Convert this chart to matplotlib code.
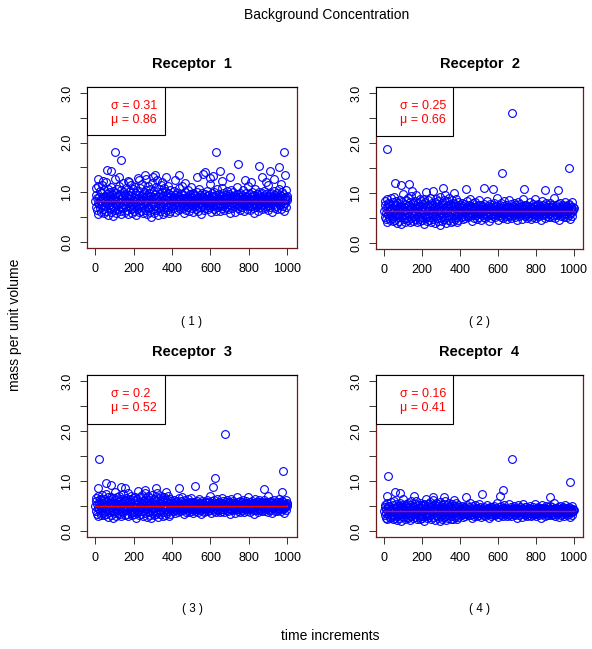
import matplotlib
matplotlib.use("Agg")
import matplotlib.pyplot as plt
import numpy as np
from matplotlib.patches import Rectangle

plt.rcParams['font.family'] = ['Liberation Sans', 'DejaVu Sans']

# bulk of each receptor series, in hundredths, 500 samples over the 1000 steps
rec1 = [82,95,71,108,64,88,79,112,57,91,76,102,69,85,98,61,83,115,74,90,
        67,87,105,59,80,93,72,120,84,63,97,78,106,55,89,75,101,68,86,92,
        60,110,81,73,96,52,88,103,70,84,126,65,91,77,99,58,82,107,74,94,
        66,86,113,62,79,95,71,104,56,89,80,118,68,92,75,100,61,85,97,73,
        83,109,64,90,78,122,57,87,95,70,102,81,66,93,114,59,84,76,106,69,
        91,62,98,80,111,54,86,74,103,67,89,129,72,95,60,83,108,77,92,63,
        85,116,70,96,58,88,101,75,82,134,65,90,79,105,56,94,71,112,84,68,
        99,61,87,107,73,93,50,81,119,66,90,77,103,59,86,97,72,110,64,88,
        80,124,69,92,55,85,106,74,96,62,89,115,71,83,100,57,93,78,109,67,
        87,60,102,76,94,131,65,84,98,70,113,58,90,79,104,63,86,95,73,82,
        79,91,68,85,102,74,88,61,95,83,70,99,77,87,64,92,81,108,72,86,
        90,66,84,97,75,80,113,69,89,78,94,58,83,101,73,87,65,91,82,76,
        104,71,86,93,62,80,96,77,85,110,68,89,74,98,83,60,92,79,87,72,
        95,81,67,88,100,75,84,63,90,78,106,70,86,94,80,57,89,76,99,84,
        73,91,65,87,82,97,69,85,78,103,92,74,81,66,95,88,71,83,116,77,
        86,60,93,79,98,72,84,90,67,101,76,88,82,63,94,80,107,74,89,85,
        70,96,78,62,87,91,75,83,109,68,92,81,73,99,86,64,90,77,84,95,
        79,102,71,88,66,93,82,76,97,85,59,89,74,105,80,92,69,86,78,100,
        83,72,94,87,61,90,79,111,75,84,96,68,88,81,73,98,64,91,85,77,
        87,95,70,82,104,76,89,62,93,80,86,74,99,67,84,91,78,112,72,88,
        81,65,96,85,73,90,100,77,83,69,94,86,58,92,79,87,107,71,84,97,
        75,89,82,63,95,78,101,86,70,91,80,74,98,88,66,84,93,76,103,81,
        89,68,85,97,72,93,79,86,115,64,90,83,75,96,87,71,82,99,78,92,
        60,88,84,102,76,91,69,85,94,80,73,98,87,66,90,82,106,77,86,95,
        74,83,92,67,89,81,100,72,96,85,78,62,91,87,79,104,70,93,84,88]
rec2 = [64,75,52,83,47,69,60,88,42,71,57,80,50,66,77,45,63,90,55,70,
        49,67,81,43,61,73,54,92,65,46,76,59,84,40,68,56,79,51,66,72,
        44,86,62,55,74,38,69,82,52,65,97,48,71,58,78,42,63,85,56,73,
        49,66,89,45,60,75,53,81,41,69,61,93,50,72,57,79,44,65,76,54,
        64,84,47,70,59,95,41,67,74,52,80,62,48,73,88,43,65,57,83,51,
        71,45,77,61,87,37,66,55,81,49,69,101,53,74,44,63,85,58,72,46,
        65,90,52,75,42,68,79,56,63,104,48,70,60,82,40,73,53,87,64,50,
        77,44,67,84,55,72,36,62,91,49,70,58,80,43,66,76,54,86,47,68,
        61,96,51,72,39,65,83,56,75,45,69,89,53,63,78,41,73,59,85,50,
        67,43,80,57,74,99,48,64,77,52,88,42,70,60,82,46,66,75,55,63,
        61,71,52,66,80,57,69,47,74,64,54,77,60,68,49,72,63,84,56,67,
        70,51,65,76,58,62,88,53,69,60,73,44,64,79,56,68,50,71,63,59,
        81,55,67,72,48,62,75,60,66,86,52,69,57,76,64,46,72,61,68,56,
        74,63,52,68,78,58,65,49,70,60,83,54,67,73,62,44,69,59,77,65,
        56,71,50,68,64,75,53,66,60,80,72,57,63,51,74,68,55,64,90,60,
        67,46,72,61,76,56,65,70,52,79,59,68,64,49,73,62,83,57,69,66,
        54,75,60,48,68,71,58,64,85,53,72,63,56,77,67,50,70,60,65,74,
        61,79,55,68,51,72,64,59,76,66,45,69,57,82,62,71,53,67,60,78,
        64,56,73,68,47,70,61,87,58,65,75,53,68,63,56,76,50,71,66,60,
        68,74,54,64,81,59,69,48,72,62,67,57,77,52,65,71,60,87,56,68,
        63,50,75,66,56,70,78,60,64,53,73,67,45,72,61,68,83,55,65,76,
        58,69,64,49,74,60,79,67,54,71,62,57,76,68,51,65,72,59,80,63,
        69,52,66,76,56,72,61,67,89,49,70,64,58,75,68,55,63,77,60,72,
        46,68,65,80,59,71,53,66,73,62,56,76,68,51,70,64,82,60,67,74,
        57,64,72,52,69,63,78,56,75,66,60,48,71,68,61,81,54,72,65,69]
rec3 = [50,60,40,66,35,55,47,70,31,57,44,64,38,52,62,33,49,73,42,56,
        37,53,65,32,48,58,41,75,51,34,61,45,68,29,54,43,63,39,52,57,
        33,69,49,42,59,27,55,66,40,51,79,36,57,45,62,31,50,68,43,58,
        37,52,71,34,47,60,41,65,30,55,48,74,38,57,44,63,33,51,61,42,
        50,67,35,56,46,76,30,53,59,40,64,49,36,58,70,32,51,44,66,39,
        57,34,62,48,69,27,52,43,65,37,55,80,41,59,33,49,68,45,57,35,
        51,72,40,60,31,54,63,43,50,77,36,56,47,66,29,58,41,70,50,38,
        62,33,53,67,42,57,26,49,73,37,55,45,64,32,52,61,41,69,35,54,
        48,76,39,57,28,51,66,43,60,34,55,71,40,50,63,30,58,46,68,38,
        53,32,64,45,59,78,36,50,62,40,70,31,56,47,65,35,52,60,42,49,
        48,56,41,52,63,45,54,37,58,50,42,60,47,53,39,57,49,66,44,52,
        55,40,51,60,46,48,69,42,54,47,57,35,50,62,44,53,39,56,49,46,
        64,43,52,57,38,49,59,47,51,67,41,54,45,59,50,36,56,48,53,44,
        58,49,41,53,61,45,51,38,55,47,65,42,52,57,48,34,54,46,60,51,
        44,56,39,53,50,59,41,52,47,63,56,45,49,40,58,53,43,50,71,47,
        52,36,56,48,60,44,51,55,41,62,46,53,50,38,57,48,65,45,54,52,
        42,59,47,38,53,56,45,50,67,41,56,49,44,60,52,39,55,47,51,58,
        48,62,43,53,40,56,50,46,59,51,35,54,45,64,48,56,42,52,47,61,
        50,44,57,53,37,55,48,68,45,51,59,41,53,49,44,60,39,56,52,47,
        53,58,42,50,63,46,54,38,56,48,52,45,60,41,51,56,47,68,44,53,
        49,39,59,52,44,55,61,47,50,42,57,52,35,56,48,53,65,43,51,59,
        45,54,50,38,58,47,62,52,42,56,48,45,59,53,40,51,56,46,63,49,
        54,41,52,59,44,56,48,52,70,38,55,50,45,59,53,43,49,60,47,56,
        36,53,51,63,46,55,41,52,57,48,44,59,53,40,55,50,64,47,52,58,
        45,50,56,41,54,49,61,44,58,52,47,37,55,53,48,63,42,56,51,54]
rec4 = [40,48,32,53,27,44,37,57,24,46,35,51,30,42,50,26,39,59,33,45,
        29,43,52,25,38,47,32,60,41,27,49,36,55,22,43,34,51,31,42,46,
        26,56,39,33,48,21,44,53,31,41,64,28,46,36,50,24,40,55,34,47,
        29,42,57,27,37,48,33,52,23,44,38,60,30,46,35,51,26,41,49,34,
        40,54,28,45,37,61,24,43,47,32,52,39,29,46,56,25,41,35,53,31,
        46,27,50,38,55,21,42,34,52,30,44,65,33,47,26,39,54,36,46,28,
        41,58,32,48,25,43,51,35,40,62,29,45,38,53,23,47,33,56,40,30,
        50,26,43,54,34,46,20,39,59,30,44,36,52,25,42,49,33,55,28,43,
        38,61,31,46,22,41,53,34,48,27,44,57,32,40,51,24,47,37,55,30,
        43,25,51,36,47,63,29,40,50,32,56,24,45,38,52,28,42,48,34,39,
        38,45,32,42,51,36,44,29,47,40,34,48,37,43,31,46,39,53,35,42,
        44,32,41,48,37,39,56,33,43,38,46,27,40,50,35,43,31,45,39,37,
        52,34,42,46,30,39,47,37,41,54,33,44,36,48,40,28,45,38,43,35,
        47,39,33,43,49,36,41,30,44,38,52,34,42,46,39,27,44,37,48,41,
        35,45,31,43,40,48,33,42,38,51,45,36,39,32,47,43,34,40,57,38,
        42,28,45,38,48,35,41,44,33,50,37,43,40,30,46,39,52,36,44,42,
        34,47,38,30,43,45,36,40,54,32,45,39,35,48,42,31,44,38,41,47,
        39,50,34,43,32,45,40,37,47,41,27,44,36,52,39,45,33,42,38,49,
        40,35,46,43,29,44,39,55,36,41,48,33,43,39,35,48,31,45,42,37,
        43,47,33,40,51,37,44,30,45,39,42,36,48,32,41,45,38,55,35,43,
        39,31,47,42,35,44,49,37,40,33,46,42,27,45,38,43,52,34,41,47,
        36,44,40,30,47,38,50,42,33,45,39,36,48,43,32,41,45,37,51,39,
        44,32,42,48,35,45,38,42,56,30,44,40,36,47,43,34,39,49,38,45,
        28,43,41,51,37,44,33,42,46,39,35,48,43,31,44,40,52,38,42,47,
        36,40,45,32,43,39,49,35,47,42,38,29,44,43,39,51,33,45,41,43]

# the high points
out1_t = [104, 135, 628, 981, 742, 853, 956, 908, 64, 83, 126, 17, 311, 436, 528, 573, 650, 700, 986,
          40, 175, 230, 265, 300, 350, 415, 470, 560, 600, 615, 660, 780, 810, 870, 890, 930, 965]
out1_v = [1.81, 1.65, 1.81, 1.81, 1.57, 1.53, 1.50, 1.42, 1.45, 1.42, 1.31, 1.26, 1.35, 1.35, 1.31, 1.40, 1.42, 1.31, 1.35,
          1.22, 1.20, 1.24, 1.27, 1.30, 1.21, 1.24, 1.18, 1.36, 1.29, 1.33, 1.22, 1.25, 1.20, 1.31, 1.20, 1.27, 1.16]
out2_t = [17, 676, 623, 977, 60, 90, 130, 150, 310, 435, 530, 575, 740, 850, 920]
out2_v = [1.88, 2.60, 1.39, 1.49, 1.19, 1.15, 1.17, 1.03, 1.10, 1.08, 1.09, 1.08, 1.07, 1.05, 1.05]
out3_t = [21, 678, 626, 977, 57, 81, 17, 135, 157, 260, 315, 434, 520, 614, 877, 974]
out3_v = [1.45, 1.94, 1.07, 1.21, .96, .93, .86, .88, .86, .83, .87, .86, .91, .89, .84, .78]
out4_t = [21, 676, 979, 626, 57, 83, 156, 260, 315, 433, 519, 614, 875, 14]
out4_v = [1.11, 1.44, .98, .82, .78, .76, .71, .69, .69, .69, .74, .71, .69, .71]

level = [0.82, 0.645, 0.505, 0.40]
sigma = ['0.31', '0.25', '0.2', '0.16']
mu = ['0.86', '0.66', '0.52', '0.41']

series = [rec1, rec2, rec3, rec4]
outs_t = [out1_t, out2_t, out3_t, out4_t]
outs_v = [out1_v, out2_v, out3_v, out4_v]

W, H = 592, 649
fig = plt.figure(figsize=(W / 100, H / 100), dpi=100)

# panel boxes in pixels: left, top, right, bottom
boxes = [(87, 87, 297, 248), (376, 87, 583, 249), (87, 375, 297, 537), (376, 375, 583, 537)]
maroon = '#6e1a1a'

for i in range(4):
    l, t, r, b = boxes[i]
    ax = fig.add_axes([l / W, 1 - b / H, (r - l) / W, (b - t) / H])
    vals = np.array(series[i]) / 100.0
    tt = np.linspace(1, 1000, len(vals))
    ax.plot(tt, vals, 'o', mfc='none', mec='blue', ms=5.6, mew=0.8)
    ax.plot(outs_t[i], outs_v[i], 'o', mfc='none', mec='blue', ms=5.6, mew=0.8)
    ax.plot([1, 1000], [level[i], level[i]], color='red', lw=1, zorder=5)

    ax.set_xlim(-42, 1050)
    ax.set_ylim(-0.12, 3.12)
    ax.set_xticks([0, 200, 400, 600, 800, 1000])
    ax.set_yticks(np.arange(0, 3.01, 0.5))
    ax.set_yticklabels(['0.0', '', '1.0', '', '2.0', '', '3.0'], rotation=90, va='center')
    ax.tick_params(length=5, width=0.7, labelsize=9, pad=5, color='#333333')
    ax.tick_params(axis='x', pad=6)
    for s in ['left', 'right', 'bottom']:
        ax.spines[s].set_color(maroon)
    ax.spines['top'].set_color('black')
    for s in ax.spines.values():
        s.set_linewidth(0.9)

    ax.set_title('Receptor  %d' % (i + 1), fontsize=10.5, fontweight='bold', pad=14)

    ax.add_patch(Rectangle((0, 0.70), 0.372, 0.30, transform=ax.transAxes,
                           facecolor='white', edgecolor='black', lw=0.8, zorder=6))
    ax.text(0.115, 0.885, '\u03c3 = ' + sigma[i], transform=ax.transAxes, color='red',
            fontsize=9, va='center', ha='left', zorder=7)
    ax.text(0.115, 0.795, '\u03bc = ' + mu[i], transform=ax.transAxes, color='red',
            fontsize=9, va='center', ha='left', zorder=7)

    cx = (l + r) / 2
    cy = 322 if i < 2 else 609
    fig.text(cx / W, 1 - cy / H, '( %d )' % (i + 1), fontsize=8.5, ha='center', va='center')

fig.text(327 / W, 1 - 15 / H, 'Background Concentration', fontsize=10, ha='center', va='center')
fig.text(330 / W, 1 - 636 / H, 'time increments', fontsize=10, ha='center', va='center')
fig.text(15 / W, 1 - 325 / H, 'mass per unit volume', fontsize=10, ha='center', va='center',
         rotation=90)

fig.savefig('out.png', dpi=100)
